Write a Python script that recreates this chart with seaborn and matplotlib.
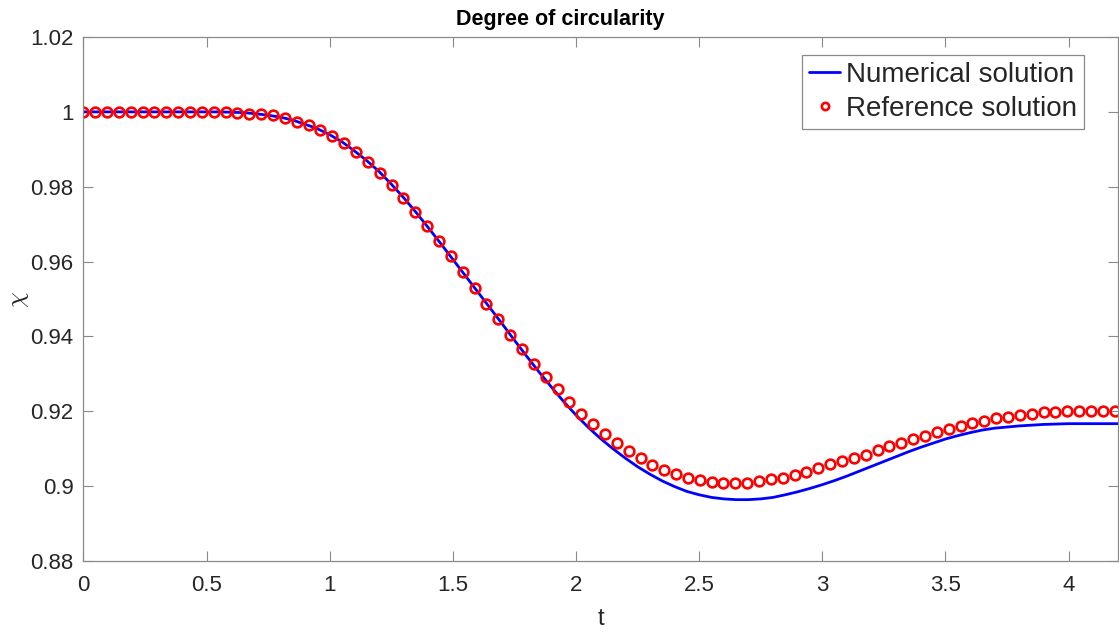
import numpy as np
import pandas as pd
import matplotlib
matplotlib.use("Agg")
import matplotlib.pyplot as plt
import seaborn as sns

# ---- data ----
t_ref = np.linspace(0.0, 4.187, 88)
chi_ref = [
    1.0000, 1.0000, 1.0000, 1.0000, 1.0000, 1.0000, 1.0000, 1.0000, 1.0000, 1.0000,
    1.0000, 1.0000, 0.9999, 0.9998, 0.9995, 0.9994, 0.9991, 0.9983, 0.9973, 0.9964,
    0.9951, 0.9935, 0.9917, 0.9893, 0.9867, 0.9838, 0.9805, 0.9771, 0.9733, 0.9695,
    0.9655, 0.9614, 0.9572, 0.9529, 0.9488, 0.9447, 0.9404, 0.9366, 0.9327, 0.9291,
    0.9259, 0.9224, 0.9193, 0.9165, 0.9139, 0.9115, 0.9094, 0.9074, 0.9056, 0.9044,
    0.9032, 0.9022, 0.9016, 0.9011, 0.9009, 0.9008, 0.9009, 0.9013, 0.9018, 0.9023,
    0.9030, 0.9039, 0.9048, 0.9058, 0.9066, 0.9075, 0.9084, 0.9097, 0.9107, 0.9116,
    0.9126, 0.9135, 0.9144, 0.9152, 0.9160, 0.9168, 0.9175, 0.9181, 0.9186, 0.9191,
    0.9194, 0.9198, 0.9199, 0.9201, 0.9201, 0.9201, 0.9201, 0.9200,
]

t_num = np.round(np.arange(0, 85) * 0.05, 2)
chi_num = [
    1.0000, 1.0000, 1.0000, 1.0000, 1.0000, 1.0000, 1.0000, 1.0000, 1.0000, 1.0000,
    1.0000, 1.0000, 0.9999, 0.9998, 0.9995, 0.9991, 0.9986, 0.9978, 0.9967, 0.9955,
    0.9939, 0.9920, 0.9896, 0.9870, 0.9841, 0.9807, 0.9771, 0.9732, 0.9691, 0.9649,
    0.9606, 0.9563, 0.9520, 0.9477, 0.9434, 0.9390, 0.9347, 0.9305, 0.9265, 0.9226,
    0.9190, 0.9157, 0.9127, 0.9100, 0.9075, 0.9052, 0.9032, 0.9014, 0.8999, 0.8986,
    0.8977, 0.8970, 0.8966, 0.8964, 0.8964, 0.8966, 0.8970, 0.8977, 0.8985, 0.8994,
    0.9004, 0.9015, 0.9027, 0.9040, 0.9053, 0.9066, 0.9079, 0.9092, 0.9104, 0.9115,
    0.9126, 0.9135, 0.9143, 0.9150, 0.9155, 0.9158, 0.9161, 0.9163, 0.9165, 0.9166,
    0.9167, 0.9167, 0.9167, 0.9167, 0.9167,
]

x_ticks = [0, 0.5, 1, 1.5, 2, 2.5, 3, 3.5, 4]
x_tick_labels = ["0", "0.5", "1", "1.5", "2", "2.5", "3", "3.5", "4"]
y_ticks = [0.88, 0.90, 0.92, 0.94, 0.96, 0.98, 1.00, 1.02]
y_tick_labels = ["0.88", "0.9", "0.92", "0.94", "0.96", "0.98", "1", "1.02"]

title = "Degree of circularity"
series_names = ["Numerical solution", "Reference solution"]

# ---- style ----
sns.set_style("white")
plt.rcParams["font.family"] = ["Liberation Sans", "DejaVu Sans"]
plt.rcParams["mathtext.fontset"] = "cm"

spine_col = "#8a8a8a"
text_col = "#262626"

fig = plt.figure(figsize=(11.19, 6.33), dpi=100)
ax = fig.add_axes([0.0745, 0.1137, 0.9245, 0.8278])

df_num = pd.DataFrame({"t": t_num, "chi": chi_num})
df_ref = pd.DataFrame({"t": t_ref, "chi": chi_ref})

sns.lineplot(data=df_num, x="t", y="chi", ax=ax, color="#0000ff", linewidth=2.0,
             label=series_names[0], errorbar=None)
sns.lineplot(data=df_ref, x="t", y="chi", ax=ax, linestyle="", marker="o",
             markersize=7.0, markerfacecolor="none", markeredgecolor="#ff0000",
             markeredgewidth=1.9, color="#ff0000", label=series_names[1],
             errorbar=None)

ax.set_xlim(0, 4.2)
ax.set_ylim(0.88, 1.02)
ax.set_xticks(x_ticks)
ax.set_xticklabels(x_tick_labels)
ax.set_yticks(y_ticks)
ax.set_yticklabels(y_tick_labels)

ax.tick_params(axis="both", which="both", direction="in", length=7.5, width=0.8,
               colors=spine_col, labelcolor=text_col, labelsize=16,
               top=True, right=True, bottom=True, left=True)
ax.tick_params(axis="x", pad=10)
ax.tick_params(axis="y", pad=7)
for s in ax.spines.values():
    s.set_visible(True)
    s.set_color(spine_col)
    s.set_linewidth(0.9)

ax.set_xlabel("t", fontsize=17, color=text_col, labelpad=9)
ax.set_ylabel(r"$\chi$", fontsize=18, color=text_col)
ax.yaxis.set_label_coords(-0.051, 0.5)
ax.set_title(title, fontsize=15.5, fontweight="bold", color="black", pad=9, x=0.461)

leg = ax.legend(loc="upper right", bbox_to_anchor=(0.967, 0.9656), borderaxespad=0,
                fontsize=20, frameon=True, fancybox=False, framealpha=1,
                edgecolor=spine_col, handlelength=1.12, handletextpad=0.2,
                labelspacing=0.28, borderpad=0.25, markerscale=0.75)
leg.get_frame().set_linewidth(0.9)

fig.savefig("out.png", dpi=100)
